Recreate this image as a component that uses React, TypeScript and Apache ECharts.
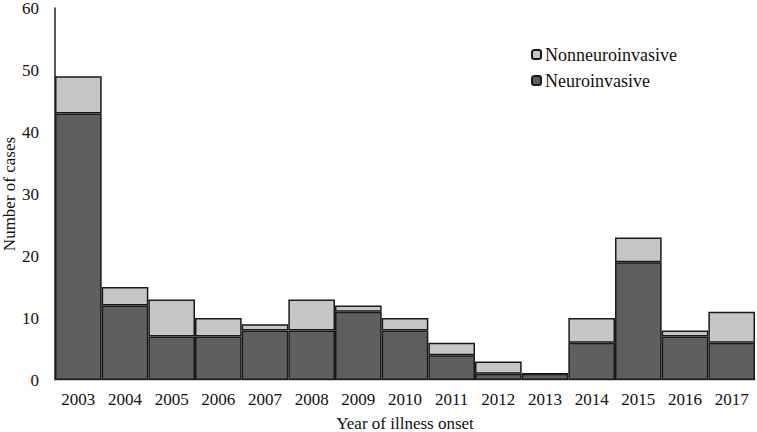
import React, { useEffect, useRef } from "react";
import * as echarts from "echarts";

const years = ["2003","2004","2005","2006","2007","2008","2009","2010","2011","2012","2013","2014","2015","2016","2017"];
const neuroinvasive = [43, 12, 7, 7, 8, 8, 11, 8, 4, 1, 1, 6, 19, 7, 6];
const nonneuroinvasive = [6, 3, 6, 3, 1, 5, 1, 2, 2, 2, 0, 4, 4, 1, 5];
const yTicks = { min: 0, max: 60, interval: 10 };

export default function App() {
  const ref = useRef<HTMLDivElement>(null);
  useEffect(() => {
    if (!ref.current) return;
    const chart = echarts.init(ref.current, null, { renderer: "svg" });
    const font = "Liberation Serif";
    chart.setOption({
      animation: false,
      textStyle: { fontFamily: font },
      grid: { left: 55, right: 2, top: 8, bottom: 52, containLabel: false, outerBoundsMode: "none" },
      legend: {
        orient: "vertical",
        left: 526,
        top: 40,
        itemWidth: 9,
        itemHeight: 9,
        itemGap: 7,
        data: ["Nonneuroinvasive", "Neuroinvasive"],
        textStyle: { fontFamily: font, fontSize: 18, lineHeight: 19, color: "#111", padding: [0, 0, 0, -1] },
      },
      xAxis: {
        type: "category",
        data: years,
        name: "Year of illness onset",
        nameLocation: "middle",
        nameGap: 35,
        nameMoveOverlap: false,
        nameTextStyle: { fontFamily: font, fontSize: 17, color: "#111" },
        axisLine: { lineStyle: { color: "#bdbdbd", width: 1.5 } },
        axisTick: { show: false },
        axisLabel: { fontFamily: font, fontSize: 17, color: "#111", margin: 11 },
      },
      yAxis: {
        type: "value",
        min: yTicks.min,
        max: yTicks.max,
        interval: yTicks.interval,
        name: "Number of cases",
        nameLocation: "middle",
        nameGap: 37,
        nameMoveOverlap: false,
        nameTextStyle: { fontFamily: font, fontSize: 17, color: "#111" },
        axisLine: { show: true, lineStyle: { color: "#222", width: 1.5 } },
        axisTick: { show: false },
        splitLine: { show: false },
        axisLabel: { fontFamily: font, fontSize: 17, color: "#111", margin: 16 },
      },
      series: [
        {
          name: "Neuroinvasive",
          type: "bar",
          stack: "total",
          data: neuroinvasive,
          barCategoryGap: "0%",
          itemStyle: { color: "#5f5f5f", borderColor: "#1a1a1a", borderWidth: 1.5 },
        },
        {
          name: "Nonneuroinvasive",
          type: "bar",
          stack: "total",
          data: nonneuroinvasive,
          barCategoryGap: "0%",
          itemStyle: { color: "#c6c6c6", borderColor: "#1a1a1a", borderWidth: 1.5 },
        },
      ],
    });
    return () => chart.dispose();
  }, []);
  return <div ref={ref} style={{ width: 757, height: 432, position: "absolute", left: 0, top: 0 }} />;
}
